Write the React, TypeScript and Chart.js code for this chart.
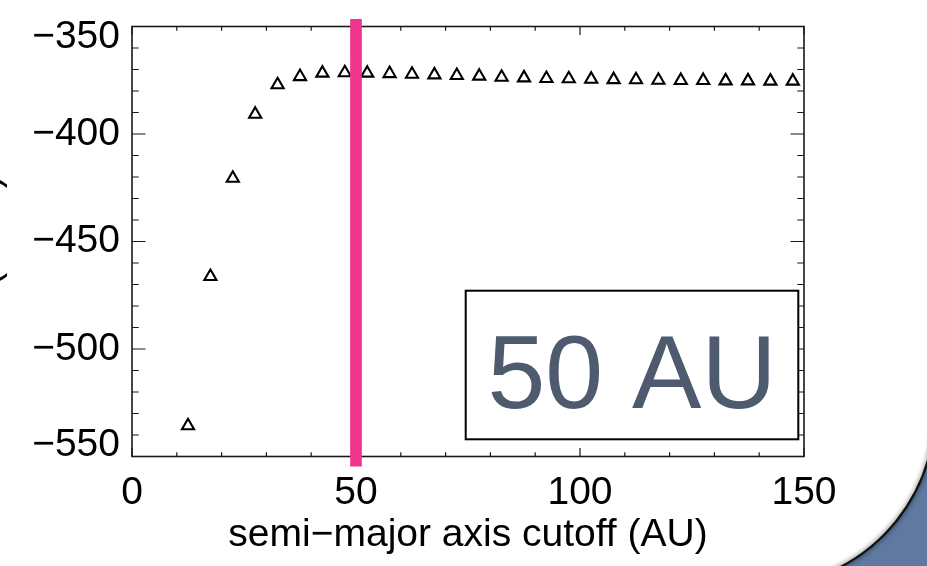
import React, { useEffect, useRef } from 'react';
import { Chart, registerables } from 'chart.js';

Chart.register(...registerables);

// ---- data ----
const cutoffAU = [
  12.5, 17.5, 22.5, 27.5, 32.5, 37.5, 42.5, 47.5, 52.5, 57.5,
  62.5, 67.5, 72.5, 77.5, 82.5, 87.5, 92.5, 97.5, 102.5, 107.5,
  112.5, 117.5, 122.5, 127.5, 132.5, 137.5, 142.5, 147.5,
];
const energyValues = [
  -535.7, -466.3, -420.6, -390.8, -377.1, -373.3, -371.7, -371.5, -371.7, -371.9,
  -372.2, -372.5, -372.8, -373.1, -373.6, -373.9, -374.2, -374.3, -374.5, -374.7,
  -374.8, -375.0, -375.1, -375.1, -375.3, -375.3, -375.4, -375.4,
];
const xTickValues = [0, 50, 100, 150];
const yTickValues = [-550, -500, -450, -400, -350];
const xMinorStep = 10;
const yMinorStep = 10;
const xMajorStep = 50;
const yMajorStep = 50;
const markerAU = 50;
const markerSpan = [-554.7, -346.5];
const boxLabel = '50 AU';
const xTitle = 'semi\u2212major axis cutoff (AU)';
const yTitle = 'E (km/s)';

const FONT = '"Liberation Sans", Arial, Helvetica, sans-serif';
const PINK = '#F0368C';

const framePlugin = {
  id: 'frameTicks',
  beforeDatasetsDraw(chart: any) {
    const { ctx, chartArea: a, scales } = chart;
    const x = scales.x;
    const y = scales.y;
    ctx.save();
    ctx.strokeStyle = '#1a1a1a';
    ctx.lineWidth = 1.2;
    ctx.beginPath();
    for (let v = x.min; v <= x.max + 1e-9; v += xMinorStep) {
      const px = x.getPixelForValue(v);
      const len = Math.abs(v % xMajorStep) < 1e-9 ? 8.6 : 4.3;
      ctx.moveTo(px, a.bottom);
      ctx.lineTo(px, a.bottom - len);
      ctx.moveTo(px, a.top);
      ctx.lineTo(px, a.top + len);
    }
    for (let v = y.min; v <= y.max + 1e-9; v += yMinorStep) {
      const py = y.getPixelForValue(v);
      const len = Math.abs(v % yMajorStep) < 1e-9 ? 13.5 : 6.75;
      ctx.moveTo(a.left, py);
      ctx.lineTo(a.left + len, py);
      ctx.moveTo(a.right, py);
      ctx.lineTo(a.right - len, py);
    }
    ctx.stroke();
    ctx.lineWidth = 1.6;
    ctx.strokeRect(a.left, a.top, a.right - a.left, a.bottom - a.top);
    ctx.restore();
  },
};

const boxPlugin = {
  id: 'labelBox',
  afterDatasetsDraw(chart: any) {
    const { ctx, chartArea: a } = chart;
    const right = a.right - 5.7;
    const bottom = a.bottom - 17.2;
    const w = 332.6;
    const h = 148.6;
    const left = right - w;
    const top = bottom - h;
    ctx.save();
    ctx.fillStyle = '#ffffff';
    ctx.fillRect(left, top, w, h);
    ctx.strokeStyle = '#000';
    ctx.lineWidth = 2;
    ctx.strokeRect(left, top, w, h);
    ctx.fillStyle = '#4E5A6E';
    ctx.font = `104px ${FONT}`;
    ctx.textAlign = 'center';
    ctx.textBaseline = 'alphabetic';
    ctx.fillText(boxLabel, left + w / 2, top + 117.6);
    ctx.restore();
  },
};

const decorPlugin = {
  id: 'decor',
  afterDraw(chart: any) {
    const { ctx } = chart;
    // blue corner swoosh
    const cx = 759, cy = 411, R = 176;
    const a0 = 0.15, a1 = 1.2;
    ctx.save();
    ctx.beginPath();
    ctx.arc(cx, cy, R, a0, a1, false);
    ctx.lineTo(960, 620);
    ctx.lineTo(960, 420);
    ctx.closePath();
    ctx.fillStyle = '#5F79A1';
    ctx.fill();
    ctx.beginPath();
    ctx.arc(cx, cy, R, a0, a1, false);
    ctx.strokeStyle = '#111';
    ctx.lineWidth = 2.2;
    ctx.shadowColor = 'rgba(0,0,0,0.75)';
    ctx.shadowBlur = 5;
    ctx.stroke();
    ctx.restore();

    // clipped y-axis title at the far left
    ctx.save();
    ctx.translate(-1.5, 175);
    ctx.rotate(-Math.PI / 2);
    ctx.font = `40px ${FONT}`;
    ctx.textAlign = 'right';
    ctx.textBaseline = 'alphabetic';
    ctx.fillStyle = '#000';
    ctx.fillText(yTitle, 0, 0);
    ctx.restore();
  },
};

export default function App() {
  const ref = useRef<HTMLCanvasElement | null>(null);

  useEffect(() => {
    const canvas = ref.current;
    if (!canvas) return;
    const chart = new Chart(canvas, {
      type: 'scatter',
      data: {
        datasets: [
          {
            type: 'line',
            data: markerSpan.map((y) => ({ x: markerAU, y })),
            borderColor: PINK,
            borderWidth: 11.7,
            borderCapStyle: 'butt',
            pointRadius: 0,
            showLine: true,
            clip: false,
            order: 0,
          } as any,
          {
            data: cutoffAU.map((x, i) => ({ x, y: energyValues[i] })),
            pointStyle: 'triangle',
            pointRadius: 7,
            pointBorderWidth: 2.1,
            pointBorderColor: '#000',
            pointBackgroundColor: 'rgba(0,0,0,0)',
            showLine: false,
            order: 1,
          } as any,
        ],
      },
      options: {
        responsive: false,
        animation: false,
        devicePixelRatio: 1,
        layout: { padding: { left: 0, right: 123, top: 26.5, bottom: 0 } },
        plugins: {
          legend: { display: false },
          tooltip: { enabled: false },
        },
        scales: {
          x: {
            type: 'linear',
            min: 0,
            max: 150,
            grid: { display: false, drawTicks: false },
            border: { display: false },
            ticks: {
              padding: 13,
              color: '#000',
              maxRotation: 0,
              font: { family: FONT, size: 39 },
              callback: (v: any) => String(v),
            },
            afterBuildTicks: (s: any) => {
              s.ticks = xTickValues.map((value) => ({ value }));
            },
            afterFit: (s: any) => {
              s.height = 109.5;
              s.paddingLeft = 0;
              s.paddingRight = 0;
            },
            title: {
              display: true,
              text: xTitle,
              color: '#000',
              font: { family: FONT, size: 39 },
              padding: { top: 0, bottom: 7.6 },
            },
          },
          y: {
            type: 'linear',
            min: -550,
            max: -350,
            grid: { display: false, drawTicks: false },
            border: { display: false },
            ticks: {
              padding: 12,
              color: '#000',
              font: (c: any) => {
                const v = c.tick ? c.tick.value : 0;
                const isEnd = v === -350 || v === -550;
                return { family: FONT, size: 39, lineHeight: isEnd ? '22px' : 1.2 };
              },
              callback: (v: any) => {
                const s = '\u2212' + String(Math.abs(Number(v)));
                if (v === -350) return ['', s];
                if (v === -550) return [s, ''];
                return s;
              },
            },
            afterBuildTicks: (s: any) => {
              s.ticks = yTickValues.map((value) => ({ value }));
            },
            afterFit: (s: any) => {
              s.width = 132;
              s.paddingTop = 0;
              s.paddingBottom = 0;
            },
          },
        },
      } as any,
      plugins: [framePlugin, boxPlugin, decorPlugin],
    });
    return () => chart.destroy();
  }, []);

  return (
    <div
      style={{
        position: 'fixed',
        left: 0,
        top: 0,
        width: 927,
        height: 566,
        background: '#ffffff',
        overflow: 'hidden',
      }}
    >
      <canvas ref={ref} width={927} height={566} style={{ display: 'block' }} />
    </div>
  );
}
